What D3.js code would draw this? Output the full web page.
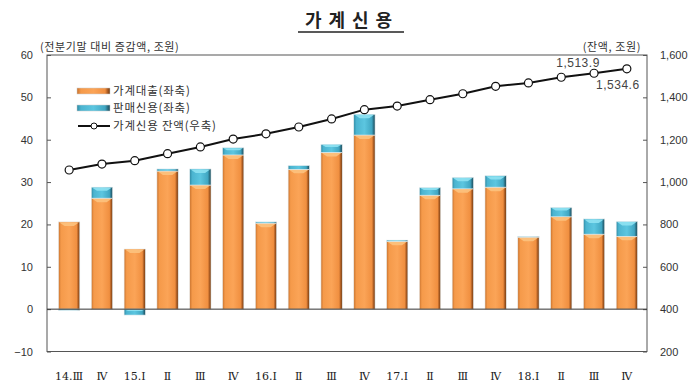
<!DOCTYPE html>
<html><head><meta charset="utf-8">
<script src="https://cdn.jsdelivr.net/npm/d3@7"></script>
<style>body{margin:0;background:#fff}svg{display:block}</style>
</head><body><svg id="c" width="700" height="389"></svg>
<script>
const categories = ["14.Ⅲ","Ⅳ","15.Ⅰ","Ⅱ","Ⅲ","Ⅳ","16.Ⅰ","Ⅱ","Ⅲ","Ⅳ","17.Ⅰ","Ⅱ","Ⅲ","Ⅳ","18.Ⅰ","Ⅱ","Ⅲ","Ⅳ"];
const householdLoans = [20.6,26.2,14.2,32.6,29.3,36.4,20.3,33.0,37.0,41.1,16.0,26.9,28.4,28.8,17.0,21.8,17.7,17.2];
const salesCredit = [-0.3,2.6,-1.4,0.5,3.8,1.7,0.3,0.9,1.9,4.9,0.3,1.8,2.7,2.7,0.2,2.2,3.6,3.5];
const creditBalance = [1057,1085,1101,1134,1166,1203,1228,1260,1298,1342,1359,1389,1417,1452,1468,1495,1513.9,1534.6];
const leftTicks = [-10,0,10,20,30,40,50,60];
const rightTicks = [200,400,600,800,1000,1200,1400,1600];
const legendLabels = ["가계대출(좌축)","판매신용(좌축)","가계신용 잔액(우축)"];

const svg = d3.select("#c");
const L=47, R=647, T=55, B=351.5;
const idx = d3.range(categories.length);
const x = d3.scaleBand().domain(idx).range([L, R+2]).padding(0.35);
const yL = d3.scaleLinear().domain([-10,60]).range([B,T]);
const yR = d3.scaleLinear().domain([200,1600]).range([B,T]);

const defs = svg.append("defs");
function grad(id, stops){
  const g = defs.append("linearGradient").attr("id",id).attr("x1","0").attr("x2","1").attr("y1","0").attr("y2","0");
  stops.forEach(s=>g.append("stop").attr("offset",s[0]).attr("stop-color",s[1]));
}
grad("gO",[["0","#c8722e"],["0.12","#f59a4a"],["0.5","#fba457"],["0.85","#f08f40"],["0.93","#a85a22"],["1","#6e3a12"]]);
grad("gC",[["0","#2e8aa4"],["0.12","#4bb4d0"],["0.5","#5cc6e0"],["0.85","#40a6c2"],["0.93","#2a6f84"],["1","#1d4c5a"]]);

// title
svg.append("text").attr("x",352).attr("y",27).attr("text-anchor","middle")
  .attr("font-family","'Noto Sans CJK KR'").attr("font-weight","bold").attr("font-size",18)
  .attr("letter-spacing","7").attr("fill","#222").text("가계신용");
svg.append("line").attr("x1",298).attr("x2",404).attr("y1",32).attr("y2",32).attr("stroke","#222").attr("stroke-width",1.3);

// axis unit labels
svg.append("text").attr("x",40).attr("y",51).attr("font-family","'Noto Sans CJK KR'").attr("font-size",11).attr("letter-spacing","0.6").attr("fill","#333").text("(전분기말 대비 증감액, 조원)");
svg.append("text").attr("x",641).attr("y",51).attr("text-anchor","end").attr("font-family","'Noto Sans CJK KR'").attr("font-size",11).attr("letter-spacing","0.6").attr("fill","#333").text("(잔액, 조원)");

// frame
svg.append("rect").attr("x",L).attr("y",T).attr("width",R-L).attr("height",B-T).attr("fill","none").attr("stroke","#555").attr("stroke-width",1);

// left axis
const axL = svg.append("g").attr("transform",`translate(${L},0)`)
  .call(d3.axisRight(yL).tickValues(leftTicks).tickSize(4).tickFormat(d3.format("d")));
axL.select(".domain").remove();
axL.selectAll("line").attr("stroke","#555");
axL.selectAll("text").attr("x",-14).attr("text-anchor","end").attr("font-family","'Liberation Sans'").attr("font-size",11).attr("fill","#333");
// right axis
const axR = svg.append("g").attr("transform",`translate(${R},0)`)
  .call(d3.axisLeft(yR).tickValues(rightTicks).tickSize(4).tickFormat(d3.format(",")));
axR.select(".domain").remove();
axR.selectAll("line").attr("stroke","#555");
axR.selectAll("text").attr("x",13).attr("text-anchor","start").attr("font-family","'Liberation Sans'").attr("font-size",11).attr("fill","#333");

// x labels
svg.append("g").selectAll("text").data(idx).join("text")
  .attr("x",i=>x(i)+x.bandwidth()/2).attr("y",380).attr("text-anchor","middle")
  .attr("font-family","'DejaVu Serif'").attr("font-size",11).attr("fill","#222").text(i=>categories[i]);

// bars
function bevelBar(g, x0, w, yTop, yBot, fill, light){
  const h = Math.abs(yBot - yTop);
  const top = Math.min(yTop,yBot);
  g.append("rect").attr("x",x0).attr("y",top).attr("width",w).attr("height",h)
    .attr("fill",`url(#${fill})`).attr("stroke","#e8eef0").attr("stroke-width",0.6);
  if(h>4){
    const b = Math.min(4, h/3);
    g.append("path").attr("d",`M${x0+1},${top+0.5}L${x0+w-1},${top+0.5}L${x0+w-b-2},${top+b}L${x0+b+2},${top+b}Z`).attr("fill",light).attr("opacity",0.9);
  }
}
const gb = svg.append("g");
idx.forEach(i=>{
  const x0 = x(i), w = x.bandwidth();
  const ln = householdLoans[i], sc = salesCredit[i];
  bevelBar(gb, x0, w, yL(ln), yL(0), "gO", "#fcc27e");
  if(sc>=0) bevelBar(gb, x0, w, yL(ln+sc), yL(ln), "gC", "#8fe2f2");
  else bevelBar(gb, x0, w, yL(0), yL(sc), "gC", "#8fe2f2");
});

// zero line
svg.append("line").attr("x1",L).attr("x2",R).attr("y1",yL(0)).attr("y2",yL(0)).attr("stroke","#333").attr("stroke-width",1);

// line
const cx = i=>x(i)+x.bandwidth()/2;
svg.append("path").datum(creditBalance)
  .attr("d",d3.line().x((d,i)=>cx(i)).y(d=>yR(d)))
  .attr("fill","none").attr("stroke","#111").attr("stroke-width",2);
svg.append("g").selectAll("circle").data(creditBalance).join("circle")
  .attr("cx",(d,i)=>cx(i)).attr("cy",d=>yR(d)).attr("r",4)
  .attr("fill","#fff").attr("stroke","#111").attr("stroke-width",1.2);

// annotations
const fmt = d3.format(",.1f");
svg.append("text").attr("x",cx(16)-16).attr("y",yR(creditBalance[16])-6).attr("text-anchor","middle")
  .attr("font-family","'Liberation Sans'").attr("font-size",12).attr("fill","#444").attr("letter-spacing","0.5").text(fmt(creditBalance[16]));
svg.append("text").attr("x",cx(17)-9).attr("y",yR(creditBalance[17])+20).attr("text-anchor","middle")
  .attr("font-family","'Liberation Sans'").attr("font-size",12).attr("fill","#444").attr("letter-spacing","0.5").text(fmt(creditBalance[17]));

// legend
const lg = svg.append("g");
const sw = [[91,"gO"],[108,"gC"]];
sw.forEach((s,i)=>{
  lg.append("rect").attr("x",77).attr("y",s[0]-3).attr("width",33).attr("height",6).attr("fill",`url(#${s[1]})`).attr("stroke","#ccc").attr("stroke-width",0.5);
  lg.append("text").attr("x",113).attr("y",s[0]+4).attr("font-family","'Noto Sans CJK KR'").attr("font-size",11.5).attr("letter-spacing","0.8").attr("fill","#333").text(legendLabels[i]);
});
lg.append("line").attr("x1",78).attr("x2",110).attr("y1",126).attr("y2",126).attr("stroke","#111").attr("stroke-width",2);
lg.append("circle").attr("cx",94).attr("cy",126).attr("r",3).attr("fill","#fff").attr("stroke","#111");
lg.append("text").attr("x",113).attr("y",130).attr("font-family","'Noto Sans CJK KR'").attr("font-size",11.5).attr("letter-spacing","0.8").attr("fill","#333").text(legendLabels[2]);
</script></body></html>
